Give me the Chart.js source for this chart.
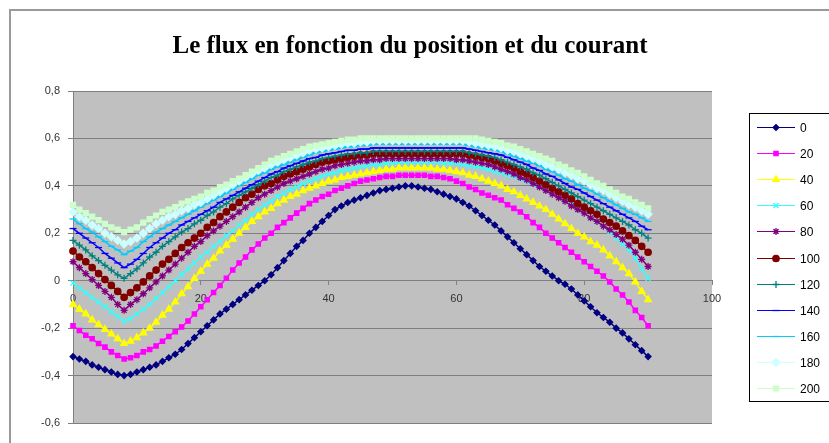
<!DOCTYPE html>
<html>
<head>
<meta charset="utf-8">
<title>Le flux en fonction du position et du courant</title>
<script src="https://cdn.jsdelivr.net/npm/chart.js@4.4.1/dist/chart.umd.min.js"></script>
<style>
  html, body { margin: 0; padding: 0; background: #ffffff; }
  #wrap { width: 829px; height: 443px; position: relative; }
</style>
</head>
<body>
<div id="wrap"><canvas id="chart" width="829" height="443"></canvas></div>
<script>
// Rotor position (x axis)
const positions = [
  0,1,2,3,4,5,6,7,8,9,10,11,12,13,14,15,16,17,18,19,
  20,21,22,23,24,25,26,27,28,29,30,31,32,33,34,35,36,37,38,39,
  40,41,42,43,44,45,46,47,48,49,50,51,52,53,54,55,56,57,58,59,
  60,61,62,63,64,65,66,67,68,69,70,71,72,73,74,75,76,77,78,79,
  80,81,82,83,84,85,86,87,88,89,90
];

// Current values, one curve each
const courants = ['0','20','40','60','80','100','120','140','160','180','200'];

// Flux for each current
const flux0 = [
  -0.32,-0.33,-0.34,-0.355,-0.365,-0.375,-0.385,-0.395,-0.40,-0.395,
  -0.385,-0.375,-0.365,-0.355,-0.34,-0.325,-0.31,-0.29,-0.265,-0.24,
  -0.215,-0.19,-0.165,-0.14,-0.12,-0.10,-0.08,-0.06,-0.04,-0.02,
  0.00,0.025,0.055,0.085,0.115,0.145,0.17,0.20,0.225,0.25,
  0.275,0.30,0.315,0.33,0.34,0.35,0.36,0.37,0.38,0.385,
  0.39,0.395,0.40,0.40,0.395,0.39,0.385,0.375,0.365,0.355,
  0.345,0.33,0.315,0.295,0.275,0.255,0.235,0.21,0.185,0.16,
  0.135,0.11,0.085,0.06,0.04,0.02,0.00,-0.015,-0.035,-0.06,
  -0.085,-0.11,-0.135,-0.155,-0.175,-0.20,-0.22,-0.245,-0.27,-0.295,
  -0.32
];
const flux20 = [
  -0.19,-0.21,-0.23,-0.245,-0.265,-0.28,-0.30,-0.315,-0.33,-0.325,
  -0.315,-0.30,-0.29,-0.275,-0.255,-0.235,-0.215,-0.195,-0.17,-0.14,
  -0.11,-0.08,-0.05,-0.02,0.01,0.045,0.075,0.10,0.13,0.155,
  0.18,0.20,0.225,0.245,0.265,0.285,0.305,0.325,0.34,0.355,
  0.365,0.38,0.39,0.40,0.41,0.42,0.425,0.43,0.435,0.44,
  0.44,0.445,0.445,0.445,0.445,0.445,0.44,0.44,0.435,0.43,
  0.42,0.41,0.395,0.385,0.37,0.36,0.35,0.34,0.32,0.305,
  0.29,0.27,0.245,0.225,0.20,0.18,0.16,0.14,0.12,0.10,
  0.08,0.06,0.04,0.02,-0.005,-0.035,-0.06,-0.09,-0.125,-0.155,
  -0.19
];
const flux40 = [
  -0.10,-0.12,-0.14,-0.165,-0.185,-0.205,-0.225,-0.245,-0.265,-0.255,
  -0.24,-0.22,-0.20,-0.175,-0.145,-0.12,-0.09,-0.055,-0.025,0.01,
  0.04,0.07,0.095,0.125,0.15,0.175,0.20,0.225,0.25,0.27,
  0.29,0.305,0.325,0.34,0.355,0.365,0.38,0.39,0.40,0.41,
  0.42,0.425,0.435,0.44,0.445,0.45,0.455,0.46,0.465,0.47,
  0.47,0.475,0.475,0.475,0.475,0.475,0.475,0.47,0.47,0.465,
  0.46,0.455,0.445,0.44,0.43,0.42,0.41,0.40,0.385,0.375,
  0.36,0.345,0.33,0.315,0.30,0.28,0.26,0.24,0.22,0.20,
  0.185,0.165,0.15,0.13,0.105,0.08,0.055,0.03,-0.005,-0.045,
  -0.08
];
const flux60 = [
  -0.01,-0.03,-0.05,-0.07,-0.09,-0.11,-0.13,-0.15,-0.17,-0.16,
  -0.14,-0.12,-0.10,-0.075,-0.05,-0.025,0.00,0.025,0.05,0.075,
  0.10,0.12,0.145,0.165,0.19,0.21,0.235,0.255,0.28,0.30,
  0.32,0.335,0.355,0.37,0.385,0.395,0.41,0.42,0.43,0.44,
  0.45,0.455,0.465,0.47,0.475,0.48,0.485,0.49,0.49,0.495,
  0.495,0.50,0.50,0.50,0.50,0.50,0.50,0.50,0.495,0.495,
  0.495,0.49,0.485,0.48,0.475,0.47,0.46,0.455,0.445,0.44,
  0.43,0.42,0.405,0.395,0.38,0.365,0.35,0.335,0.32,0.30,
  0.285,0.265,0.25,0.23,0.205,0.18,0.155,0.13,0.095,0.05,
  0.01
];
const flux80 = [
  0.08,0.055,0.03,0.005,-0.02,-0.045,-0.07,-0.10,-0.125,-0.10,
  -0.08,-0.055,-0.03,-0.005,0.02,0.045,0.07,0.095,0.12,0.145,
  0.165,0.19,0.21,0.23,0.25,0.27,0.29,0.31,0.33,0.35,
  0.365,0.38,0.395,0.41,0.42,0.43,0.44,0.45,0.46,0.47,
  0.475,0.485,0.49,0.495,0.50,0.505,0.505,0.51,0.51,0.515,
  0.515,0.515,0.515,0.515,0.515,0.515,0.515,0.515,0.515,0.515,
  0.51,0.51,0.505,0.50,0.495,0.49,0.48,0.47,0.46,0.45,
  0.435,0.425,0.41,0.395,0.38,0.365,0.35,0.335,0.315,0.30,
  0.285,0.265,0.25,0.23,0.215,0.195,0.175,0.15,0.12,0.09,
  0.06
];
const flux100 = [
  0.125,0.10,0.08,0.055,0.03,0.005,-0.02,-0.045,-0.07,-0.05,
  -0.03,-0.005,0.02,0.045,0.07,0.09,0.115,0.14,0.16,0.18,
  0.20,0.225,0.245,0.27,0.29,0.31,0.33,0.35,0.365,0.385,
  0.40,0.41,0.425,0.44,0.45,0.46,0.47,0.48,0.49,0.50,
  0.505,0.51,0.515,0.52,0.525,0.53,0.53,0.535,0.535,0.535,
  0.535,0.535,0.535,0.535,0.535,0.535,0.535,0.535,0.535,0.535,
  0.535,0.535,0.53,0.525,0.52,0.515,0.505,0.495,0.485,0.475,
  0.46,0.45,0.435,0.42,0.405,0.39,0.375,0.36,0.345,0.325,
  0.31,0.295,0.28,0.26,0.245,0.23,0.21,0.19,0.17,0.145,
  0.12
];
const flux120 = [
  0.17,0.15,0.13,0.105,0.085,0.065,0.045,0.025,0.01,0.03,
  0.05,0.075,0.10,0.12,0.145,0.165,0.185,0.205,0.22,0.24,
  0.255,0.275,0.29,0.31,0.325,0.345,0.36,0.375,0.39,0.405,
  0.42,0.435,0.445,0.46,0.47,0.48,0.49,0.50,0.505,0.515,
  0.52,0.525,0.53,0.535,0.535,0.54,0.54,0.545,0.545,0.545,
  0.545,0.545,0.545,0.545,0.545,0.545,0.545,0.545,0.545,0.545,
  0.545,0.545,0.54,0.535,0.53,0.525,0.52,0.51,0.50,0.49,
  0.48,0.47,0.455,0.445,0.43,0.415,0.40,0.385,0.37,0.355,
  0.34,0.325,0.31,0.295,0.28,0.265,0.25,0.235,0.215,0.20,
  0.18
];
const flux140 = [
  0.22,0.20,0.18,0.16,0.14,0.115,0.095,0.075,0.055,0.07,
  0.09,0.115,0.14,0.16,0.18,0.20,0.215,0.235,0.25,0.265,
  0.28,0.295,0.31,0.33,0.345,0.36,0.375,0.39,0.405,0.42,
  0.435,0.45,0.46,0.475,0.485,0.495,0.505,0.515,0.52,0.53,
  0.535,0.54,0.545,0.55,0.55,0.555,0.555,0.56,0.56,0.56,
  0.56,0.56,0.56,0.56,0.56,0.56,0.56,0.56,0.56,0.56,
  0.56,0.56,0.555,0.55,0.545,0.54,0.535,0.53,0.52,0.51,
  0.50,0.49,0.475,0.465,0.45,0.44,0.425,0.41,0.395,0.385,
  0.37,0.355,0.34,0.325,0.31,0.295,0.28,0.265,0.25,0.23,
  0.215
];
const flux160 = [
  0.26,0.24,0.22,0.205,0.185,0.165,0.145,0.13,0.11,0.125,
  0.14,0.165,0.185,0.205,0.22,0.235,0.25,0.265,0.28,0.295,
  0.31,0.325,0.34,0.355,0.37,0.385,0.40,0.415,0.43,0.445,
  0.455,0.47,0.48,0.49,0.50,0.51,0.52,0.53,0.54,0.545,
  0.55,0.555,0.56,0.565,0.565,0.57,0.57,0.575,0.575,0.575,
  0.575,0.575,0.575,0.575,0.575,0.575,0.575,0.575,0.575,0.575,
  0.575,0.575,0.57,0.565,0.56,0.555,0.55,0.545,0.535,0.525,
  0.515,0.505,0.495,0.485,0.47,0.46,0.445,0.43,0.42,0.405,
  0.39,0.38,0.365,0.35,0.335,0.32,0.305,0.29,0.28,0.265,
  0.25
];
const flux180 = [
  0.29,0.27,0.255,0.235,0.22,0.20,0.185,0.17,0.155,0.165,
  0.18,0.20,0.22,0.24,0.255,0.27,0.28,0.295,0.305,0.32,
  0.33,0.345,0.36,0.375,0.39,0.405,0.42,0.435,0.45,0.465,
  0.475,0.49,0.50,0.51,0.52,0.53,0.54,0.55,0.555,0.56,
  0.565,0.57,0.575,0.58,0.58,0.585,0.585,0.59,0.59,0.59,
  0.59,0.59,0.59,0.59,0.59,0.59,0.59,0.59,0.59,0.59,
  0.59,0.59,0.585,0.58,0.575,0.57,0.565,0.56,0.55,0.545,
  0.535,0.525,0.515,0.505,0.49,0.48,0.47,0.455,0.445,0.43,
  0.42,0.405,0.39,0.38,0.365,0.35,0.335,0.32,0.31,0.295,
  0.28
];
const flux200 = [
  0.32,0.30,0.285,0.27,0.255,0.24,0.225,0.215,0.205,0.215,
  0.225,0.245,0.26,0.275,0.29,0.30,0.31,0.325,0.335,0.345,
  0.355,0.37,0.38,0.395,0.405,0.42,0.43,0.445,0.46,0.475,
  0.49,0.505,0.515,0.525,0.535,0.545,0.555,0.565,0.57,0.575,
  0.58,0.585,0.59,0.595,0.595,0.60,0.60,0.60,0.60,0.60,
  0.60,0.60,0.60,0.60,0.60,0.60,0.60,0.60,0.60,0.60,
  0.60,0.60,0.60,0.60,0.595,0.59,0.585,0.58,0.57,0.565,
  0.555,0.545,0.535,0.525,0.515,0.505,0.49,0.48,0.465,0.455,
  0.44,0.425,0.41,0.40,0.385,0.37,0.355,0.345,0.33,0.32,
  0.305
];

const fluxSeries = [flux0, flux20, flux40, flux60, flux80, flux100, flux120, flux140, flux160, flux180, flux200];

// Axis ranges
const yMin = -0.6, yMax = 0.8, yStep = 0.2;
const xMin = 0, xMax = 100, xStep = 20;

// Series appearance
const seriesColors = ['#000080','#FF00FF','#FFFF00','#33FFFF','#800080','#800000','#008080','#0000FF','#00CCFF','#CCFFFF','#CCFFCC'];
const seriesMarkers = ['rectRot','rect','triangle','crossRot','star','circle','cross','line','line','rectRot','rect'];
const markerRadius = [2.9,3,3.8,3.5,3.5,3.2,3.5,3.5,3.5,3.8,3.5];

const FONT = '"Liberation Sans", Arial, sans-serif';
const TITLE = 'Le flux en fonction du position et du courant';

const datasets = courants.map((name, i) => ({
  label: name,
  data: positions.map((p, k) => ({ x: p, y: fluxSeries[i][k] })),
  borderColor: seriesColors[i],
  backgroundColor: seriesColors[i],
  pointBackgroundColor: seriesColors[i],
  pointBorderColor: seriesColors[i],
  pointStyle: seriesMarkers[i],
  pointRadius: markerRadius[i],
  pointBorderWidth: 1.3,
  borderWidth: 1.5,
  tension: 0,
  fill: false,
  clip: false,
  order: courants.length - i
}));

// Chart frame, plot background and title
const frame = {
  id: 'frame',
  beforeDraw(chart) {
    const { ctx, chartArea: a } = chart;
    ctx.save();
    ctx.fillStyle = '#ffffff';
    ctx.fillRect(0, 0, chart.width, chart.height);
    ctx.strokeStyle = '#9a9a9a';
    ctx.lineWidth = 2;
    ctx.strokeRect(10, 10, chart.width + 20, chart.height + 20);
    ctx.fillStyle = '#c0c0c0';
    ctx.fillRect(a.left, a.top, a.right - a.left, a.bottom - a.top);
    ctx.fillStyle = '#000000';
    ctx.font = 'bold 25px "Liberation Serif", "Times New Roman", serif';
    ctx.textAlign = 'center';
    ctx.textBaseline = 'middle';
    ctx.fillText(TITLE, 410, 47);
    ctx.restore();
  }
};

// Legend box on the right
const legendBox = {
  id: 'legendBox',
  afterDraw(chart) {
    const ctx = chart.ctx;
    const h = Chart.helpers;
    ctx.save();
    ctx.fillStyle = '#ffffff';
    ctx.fillRect(749, 113, 120, 288);
    ctx.strokeStyle = '#000000';
    ctx.lineWidth = 1;
    ctx.strokeRect(749.5, 113.5, 120, 288);
    ctx.font = '12px ' + FONT;
    ctx.textAlign = 'left';
    ctx.textBaseline = 'middle';
    chart.data.datasets.forEach((ds, i) => {
      const y = Math.round(127 + i * 26.1) + 0.5;
      ctx.strokeStyle = ds.borderColor;
      ctx.lineWidth = 1;
      ctx.beginPath();
      ctx.moveTo(757, y);
      ctx.lineTo(795, y);
      ctx.stroke();
      ctx.fillStyle = ds.pointBackgroundColor;
      ctx.strokeStyle = ds.pointBorderColor;
      ctx.lineWidth = 1.3;
      if (h && h.drawPoint) {
        h.drawPoint(ctx, { pointStyle: ds.pointStyle, radius: ds.pointRadius, rotation: 0, borderWidth: 1.3 }, 776, y);
      } else {
        ctx.fillRect(773, y - 3, 6, 6);
      }
      ctx.fillStyle = '#000000';
      ctx.fillText(ds.label, 800, y + 1);
    });
    ctx.restore();
  }
};

new Chart(document.getElementById('chart'), {
  type: 'line',
  data: { datasets },
  plugins: [frame, legendBox],
  options: {
    responsive: false,
    animation: false,
    devicePixelRatio: 1,
    events: [],
    layout: { padding: { top: 91, right: 117, bottom: 20, left: 0 } },
    plugins: {
      legend: { display: false },
      title: { display: false },
      tooltip: { enabled: false }
    },
    scales: {
      x: {
        type: 'linear',
        min: xMin,
        max: xMax,
        position: { y: 0 },
        afterFit(scale) { scale.height = 0; },
        grid: { display: true, drawOnChartArea: false, drawTicks: true, tickLength: 4, color: '#808080' },
        border: { display: true, color: '#808080' },
        ticks: {
          stepSize: xStep,
          padding: 8,
          maxRotation: 0,
          autoSkip: false,
          color: '#333333',
          font: { family: FONT, size: 11 }
        }
      },
      y: {
        type: 'linear',
        min: yMin,
        max: yMax,
        afterFit(scale) { scale.width = 73; },
        grid: { color: '#808080', lineWidth: 1, drawTicks: true, tickLength: 5 },
        border: { display: true, color: '#808080' },
        ticks: {
          stepSize: yStep,
          padding: 8,
          color: '#333333',
          font: { family: FONT, size: 11 },
          callback: (v) => Math.abs(v) < 1e-9 ? '0' : v.toFixed(1).replace('.', ',')
        }
      }
    }
  }
});
</script>
</body>
</html>
